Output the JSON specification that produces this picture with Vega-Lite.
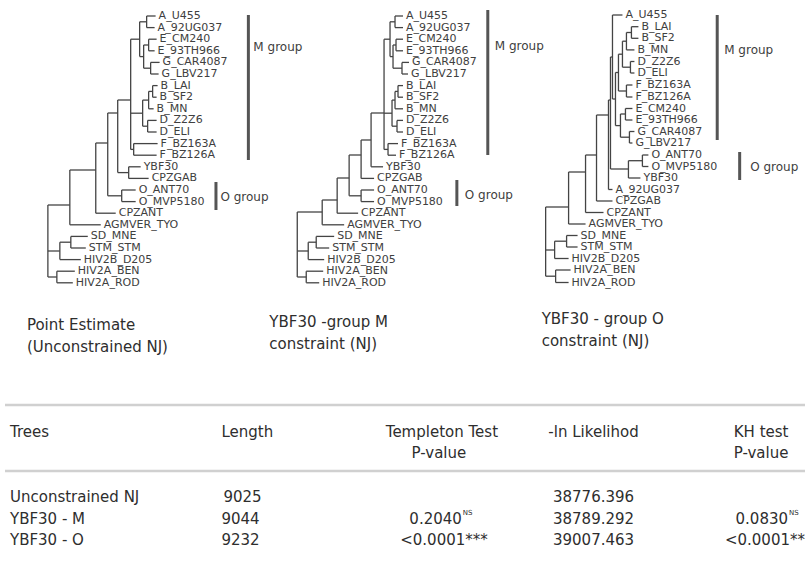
{
  "$schema": "https://vega.github.io/schema/vega-lite/v6.json",
  "width": 807,
  "height": 585,
  "autosize": {"type": "fit", "contains": "padding"},
  "padding": 0,
  "background": "white",
  "config": {"view": {"stroke": null}},
  "datasets": {
    "branches": [
      {"tree":1,"dist0":147,"dist1":156,"pos0":16,"pos1":16},{"tree":1,"dist0":147,"dist1":155,"pos0":27.6,"pos1":27.6},{"tree":1,"dist0":147,"dist1":147,"pos0":16,"pos1":27.6},
      {"tree":1,"dist0":149,"dist1":157,"pos0":39.2,"pos1":39.2},{"tree":1,"dist0":149,"dist1":155,"pos0":50.8,"pos1":50.8},{"tree":1,"dist0":149,"dist1":149,"pos0":39.2,"pos1":50.8},
      {"tree":1,"dist0":151,"dist1":160,"pos0":62.4,"pos1":62.4},{"tree":1,"dist0":151,"dist1":159,"pos0":74,"pos1":74},{"tree":1,"dist0":151,"dist1":151,"pos0":62.4,"pos1":74},
      {"tree":1,"dist0":144,"dist1":149,"pos0":45,"pos1":45},{"tree":1,"dist0":144,"dist1":151,"pos0":68.2,"pos1":68.2},{"tree":1,"dist0":144,"dist1":144,"pos0":45,"pos1":68.2},
      {"tree":1,"dist0":140,"dist1":147,"pos0":21.8,"pos1":21.8},{"tree":1,"dist0":140,"dist1":144,"pos0":56.6,"pos1":56.6},{"tree":1,"dist0":140,"dist1":140,"pos0":21.8,"pos1":56.6},
      {"tree":1,"dist0":153,"dist1":158,"pos0":85.6,"pos1":85.6},{"tree":1,"dist0":153,"dist1":157,"pos0":97.2,"pos1":97.2},{"tree":1,"dist0":153,"dist1":153,"pos0":85.6,"pos1":97.2},
      {"tree":1,"dist0":149,"dist1":153,"pos0":91.4,"pos1":91.4},{"tree":1,"dist0":149,"dist1":154,"pos0":108.8,"pos1":108.8},{"tree":1,"dist0":149,"dist1":149,"pos0":91.4,"pos1":108.8},
      {"tree":1,"dist0":148,"dist1":157,"pos0":120.4,"pos1":120.4},{"tree":1,"dist0":148,"dist1":157,"pos0":132,"pos1":132},{"tree":1,"dist0":148,"dist1":148,"pos0":120.4,"pos1":132},
      {"tree":1,"dist0":143,"dist1":149,"pos0":100.1,"pos1":100.1},{"tree":1,"dist0":143,"dist1":148,"pos0":126.2,"pos1":126.2},{"tree":1,"dist0":143,"dist1":143,"pos0":100.1,"pos1":126.2},
      {"tree":1,"dist0":134,"dist1":158,"pos0":143.6,"pos1":143.6},{"tree":1,"dist0":134,"dist1":157,"pos0":155.2,"pos1":155.2},{"tree":1,"dist0":134,"dist1":134,"pos0":143.6,"pos1":155.2},
      {"tree":1,"dist0":131,"dist1":140,"pos0":39.2,"pos1":39.2},{"tree":1,"dist0":131,"dist1":143,"pos0":113.2,"pos1":113.2},{"tree":1,"dist0":131,"dist1":134,"pos0":149.4,"pos1":149.4},{"tree":1,"dist0":131,"dist1":131,"pos0":39.2,"pos1":149.4},
      {"tree":1,"dist0":129,"dist1":141,"pos0":166.8,"pos1":166.8},{"tree":1,"dist0":129,"dist1":149,"pos0":178.4,"pos1":178.4},{"tree":1,"dist0":129,"dist1":129,"pos0":166.8,"pos1":178.4},
      {"tree":1,"dist0":118,"dist1":131,"pos0":100,"pos1":100},{"tree":1,"dist0":118,"dist1":129,"pos0":172.6,"pos1":172.6},{"tree":1,"dist0":118,"dist1":118,"pos0":100,"pos1":172.6},
      {"tree":1,"dist0":122,"dist1":136,"pos0":190,"pos1":190},{"tree":1,"dist0":122,"dist1":136,"pos0":201.6,"pos1":201.6},{"tree":1,"dist0":122,"dist1":122,"pos0":190,"pos1":201.6},
      {"tree":1,"dist0":108,"dist1":118,"pos0":113,"pos1":113},{"tree":1,"dist0":108,"dist1":122,"pos0":195.8,"pos1":195.8},{"tree":1,"dist0":108,"dist1":108,"pos0":113,"pos1":195.8},
      {"tree":1,"dist0":96,"dist1":108,"pos0":143,"pos1":143},{"tree":1,"dist0":96,"dist1":116,"pos0":213.2,"pos1":213.2},{"tree":1,"dist0":96,"dist1":96,"pos0":143,"pos1":213.2},
      {"tree":1,"dist0":70,"dist1":96,"pos0":170,"pos1":170},{"tree":1,"dist0":70,"dist1":101,"pos0":224.8,"pos1":224.8},{"tree":1,"dist0":70,"dist1":70,"pos0":170,"pos1":224.8},
      {"tree":1,"dist0":71,"dist1":88,"pos0":236.4,"pos1":236.4},{"tree":1,"dist0":71,"dist1":86,"pos0":248,"pos1":248},{"tree":1,"dist0":71,"dist1":71,"pos0":236.4,"pos1":248},
      {"tree":1,"dist0":60,"dist1":71,"pos0":242.2,"pos1":242.2},{"tree":1,"dist0":60,"dist1":81,"pos0":259.6,"pos1":259.6},{"tree":1,"dist0":60,"dist1":60,"pos0":242.2,"pos1":259.6},
      {"tree":1,"dist0":57,"dist1":75,"pos0":271.2,"pos1":271.2},{"tree":1,"dist0":57,"dist1":73,"pos0":282.8,"pos1":282.8},{"tree":1,"dist0":57,"dist1":57,"pos0":271.2,"pos1":282.8},
      {"tree":1,"dist0":48,"dist1":70,"pos0":205,"pos1":205},{"tree":1,"dist0":48,"dist1":60,"pos0":251,"pos1":251},{"tree":1,"dist0":48,"dist1":57,"pos0":277,"pos1":277},{"tree":1,"dist0":48,"dist1":48,"pos0":205,"pos1":277},

      {"tree":2,"dist0":396,"dist1":404,"pos0":16,"pos1":16},{"tree":2,"dist0":396,"dist1":404,"pos0":27.6,"pos1":27.6},{"tree":2,"dist0":396,"dist1":396,"pos0":16,"pos1":27.6},
      {"tree":2,"dist0":397,"dist1":404,"pos0":39.2,"pos1":39.2},{"tree":2,"dist0":397,"dist1":404,"pos0":50.8,"pos1":50.8},{"tree":2,"dist0":397,"dist1":397,"pos0":39.2,"pos1":50.8},
      {"tree":2,"dist0":403,"dist1":410,"pos0":62.4,"pos1":62.4},{"tree":2,"dist0":403,"dist1":409,"pos0":74,"pos1":74},{"tree":2,"dist0":403,"dist1":403,"pos0":62.4,"pos1":74},
      {"tree":2,"dist0":394,"dist1":397,"pos0":45,"pos1":45},{"tree":2,"dist0":394,"dist1":403,"pos0":68.2,"pos1":68.2},{"tree":2,"dist0":394,"dist1":394,"pos0":45,"pos1":68.2},
      {"tree":2,"dist0":391,"dist1":396,"pos0":21.8,"pos1":21.8},{"tree":2,"dist0":391,"dist1":394,"pos0":56.6,"pos1":56.6},{"tree":2,"dist0":391,"dist1":391,"pos0":21.8,"pos1":56.6},
      {"tree":2,"dist0":399,"dist1":404,"pos0":85.6,"pos1":85.6},{"tree":2,"dist0":399,"dist1":404,"pos0":97.2,"pos1":97.2},{"tree":2,"dist0":399,"dist1":399,"pos0":85.6,"pos1":97.2},
      {"tree":2,"dist0":396,"dist1":399,"pos0":91.4,"pos1":91.4},{"tree":2,"dist0":396,"dist1":404,"pos0":108.8,"pos1":108.8},{"tree":2,"dist0":396,"dist1":396,"pos0":91.4,"pos1":108.8},
      {"tree":2,"dist0":398,"dist1":404,"pos0":120.4,"pos1":120.4},{"tree":2,"dist0":398,"dist1":404,"pos0":132,"pos1":132},{"tree":2,"dist0":398,"dist1":398,"pos0":120.4,"pos1":132},
      {"tree":2,"dist0":393,"dist1":396,"pos0":100.1,"pos1":100.1},{"tree":2,"dist0":393,"dist1":398,"pos0":126.2,"pos1":126.2},{"tree":2,"dist0":393,"dist1":393,"pos0":100.1,"pos1":126.2},
      {"tree":2,"dist0":389,"dist1":399,"pos0":143.6,"pos1":143.6},{"tree":2,"dist0":389,"dist1":397,"pos0":155.2,"pos1":155.2},{"tree":2,"dist0":389,"dist1":389,"pos0":143.6,"pos1":155.2},
      {"tree":2,"dist0":385,"dist1":391,"pos0":39.2,"pos1":39.2},{"tree":2,"dist0":385,"dist1":393,"pos0":113.2,"pos1":113.2},{"tree":2,"dist0":385,"dist1":389,"pos0":149.4,"pos1":149.4},{"tree":2,"dist0":385,"dist1":385,"pos0":39.2,"pos1":149.4},
      {"tree":2,"dist0":372,"dist1":385,"pos0":113,"pos1":113},{"tree":2,"dist0":372,"dist1":384,"pos0":166.8,"pos1":166.8},{"tree":2,"dist0":372,"dist1":372,"pos0":113,"pos1":166.8},
      {"tree":2,"dist0":362,"dist1":372,"pos0":140,"pos1":140},{"tree":2,"dist0":362,"dist1":375,"pos0":178.4,"pos1":178.4},{"tree":2,"dist0":362,"dist1":362,"pos0":140,"pos1":178.4},
      {"tree":2,"dist0":362,"dist1":375,"pos0":190,"pos1":190},{"tree":2,"dist0":362,"dist1":375,"pos0":201.6,"pos1":201.6},{"tree":2,"dist0":362,"dist1":362,"pos0":190,"pos1":201.6},
      {"tree":2,"dist0":350,"dist1":362,"pos0":155,"pos1":155},{"tree":2,"dist0":350,"dist1":362,"pos0":195.8,"pos1":195.8},{"tree":2,"dist0":350,"dist1":350,"pos0":155,"pos1":195.8},
      {"tree":2,"dist0":338,"dist1":350,"pos0":178,"pos1":178},{"tree":2,"dist0":338,"dist1":359,"pos0":213.2,"pos1":213.2},{"tree":2,"dist0":338,"dist1":338,"pos0":178,"pos1":213.2},
      {"tree":2,"dist0":323,"dist1":338,"pos0":200,"pos1":200},{"tree":2,"dist0":323,"dist1":345,"pos0":224.8,"pos1":224.8},{"tree":2,"dist0":323,"dist1":323,"pos0":200,"pos1":224.8},
      {"tree":2,"dist0":317,"dist1":335,"pos0":236.4,"pos1":236.4},{"tree":2,"dist0":317,"dist1":330,"pos0":248,"pos1":248},{"tree":2,"dist0":317,"dist1":317,"pos0":236.4,"pos1":248},
      {"tree":2,"dist0":309,"dist1":317,"pos0":242.2,"pos1":242.2},{"tree":2,"dist0":309,"dist1":325,"pos0":259.6,"pos1":259.6},{"tree":2,"dist0":309,"dist1":309,"pos0":242.2,"pos1":259.6},
      {"tree":2,"dist0":307,"dist1":324,"pos0":271.2,"pos1":271.2},{"tree":2,"dist0":307,"dist1":320,"pos0":282.8,"pos1":282.8},{"tree":2,"dist0":307,"dist1":307,"pos0":271.2,"pos1":282.8},
      {"tree":2,"dist0":298,"dist1":323,"pos0":212,"pos1":212},{"tree":2,"dist0":298,"dist1":309,"pos0":251,"pos1":251},{"tree":2,"dist0":298,"dist1":307,"pos0":277,"pos1":277},{"tree":2,"dist0":298,"dist1":298,"pos0":212,"pos1":277},

      {"tree":3,"dist0":633,"dist1":640,"pos0":26.7,"pos1":26.7},{"tree":3,"dist0":633,"dist1":640,"pos0":38.3,"pos1":38.3},{"tree":3,"dist0":633,"dist1":633,"pos0":26.7,"pos1":38.3},
      {"tree":3,"dist0":628,"dist1":633,"pos0":32.5,"pos1":32.5},{"tree":3,"dist0":628,"dist1":636,"pos0":49.9,"pos1":49.9},{"tree":3,"dist0":628,"dist1":628,"pos0":32.5,"pos1":49.9},
      {"tree":3,"dist0":632,"dist1":636,"pos0":61.5,"pos1":61.5},{"tree":3,"dist0":632,"dist1":636,"pos0":73,"pos1":73},{"tree":3,"dist0":632,"dist1":632,"pos0":61.5,"pos1":73},
      {"tree":3,"dist0":624,"dist1":628,"pos0":41.2,"pos1":41.2},{"tree":3,"dist0":624,"dist1":632,"pos0":67.2,"pos1":67.2},{"tree":3,"dist0":624,"dist1":624,"pos0":41.2,"pos1":67.2},
      {"tree":3,"dist0":628,"dist1":634,"pos0":85,"pos1":85},{"tree":3,"dist0":628,"dist1":634,"pos0":97,"pos1":97},{"tree":3,"dist0":628,"dist1":628,"pos0":85,"pos1":97},
      {"tree":3,"dist0":620,"dist1":624,"pos0":54.2,"pos1":54.2},{"tree":3,"dist0":620,"dist1":628,"pos0":91,"pos1":91},{"tree":3,"dist0":620,"dist1":620,"pos0":54.2,"pos1":91},
      {"tree":3,"dist0":627,"dist1":634,"pos0":108.5,"pos1":108.5},{"tree":3,"dist0":627,"dist1":634,"pos0":120,"pos1":120},{"tree":3,"dist0":627,"dist1":627,"pos0":108.5,"pos1":120},
      {"tree":3,"dist0":631,"dist1":636,"pos0":131.5,"pos1":131.5},{"tree":3,"dist0":631,"dist1":634,"pos0":143,"pos1":143},{"tree":3,"dist0":631,"dist1":631,"pos0":131.5,"pos1":143},
      {"tree":3,"dist0":622,"dist1":627,"pos0":114,"pos1":114},{"tree":3,"dist0":622,"dist1":631,"pos0":137.2,"pos1":137.2},{"tree":3,"dist0":622,"dist1":622,"pos0":114,"pos1":137.2},
      {"tree":3,"dist0":617,"dist1":620,"pos0":72.5,"pos1":72.5},{"tree":3,"dist0":617,"dist1":622,"pos0":125.6,"pos1":125.6},{"tree":3,"dist0":617,"dist1":617,"pos0":72.5,"pos1":125.6},
      {"tree":3,"dist0":614,"dist1":624,"pos0":15,"pos1":15},{"tree":3,"dist0":614,"dist1":617,"pos0":99,"pos1":99},{"tree":3,"dist0":614,"dist1":614,"pos0":15,"pos1":99},
      {"tree":3,"dist0":644,"dist1":650,"pos0":155,"pos1":155},{"tree":3,"dist0":644,"dist1":650,"pos0":166.5,"pos1":166.5},{"tree":3,"dist0":644,"dist1":644,"pos0":155,"pos1":166.5},
      {"tree":3,"dist0":630,"dist1":644,"pos0":160.7,"pos1":160.7},{"tree":3,"dist0":630,"dist1":642,"pos0":178,"pos1":178},{"tree":3,"dist0":630,"dist1":630,"pos0":160.7,"pos1":178},
      {"tree":3,"dist0":612,"dist1":614,"pos0":57,"pos1":57},{"tree":3,"dist0":612,"dist1":630,"pos0":169,"pos1":169},{"tree":3,"dist0":612,"dist1":612,"pos0":57,"pos1":169},
      {"tree":3,"dist0":610,"dist1":612,"pos0":100,"pos1":100},{"tree":3,"dist0":610,"dist1":614,"pos0":189.5,"pos1":189.5},{"tree":3,"dist0":610,"dist1":610,"pos0":100,"pos1":189.5},
      {"tree":3,"dist0":598,"dist1":610,"pos0":115,"pos1":115},{"tree":3,"dist0":598,"dist1":614,"pos0":201,"pos1":201},{"tree":3,"dist0":598,"dist1":598,"pos0":115,"pos1":201},
      {"tree":3,"dist0":587,"dist1":598,"pos0":155,"pos1":155},{"tree":3,"dist0":587,"dist1":605,"pos0":212.5,"pos1":212.5},{"tree":3,"dist0":587,"dist1":587,"pos0":155,"pos1":212.5},
      {"tree":3,"dist0":570,"dist1":587,"pos0":172,"pos1":172},{"tree":3,"dist0":570,"dist1":587,"pos0":224,"pos1":224},{"tree":3,"dist0":570,"dist1":570,"pos0":172,"pos1":224},
      {"tree":3,"dist0":568,"dist1":579,"pos0":235.5,"pos1":235.5},{"tree":3,"dist0":568,"dist1":579,"pos0":247,"pos1":247},{"tree":3,"dist0":568,"dist1":568,"pos0":235.5,"pos1":247},
      {"tree":3,"dist0":556,"dist1":568,"pos0":241.2,"pos1":241.2},{"tree":3,"dist0":556,"dist1":570,"pos0":258.5,"pos1":258.5},{"tree":3,"dist0":556,"dist1":556,"pos0":241.2,"pos1":258.5},
      {"tree":3,"dist0":557,"dist1":572,"pos0":270,"pos1":270},{"tree":3,"dist0":557,"dist1":570,"pos0":282.5,"pos1":282.5},{"tree":3,"dist0":557,"dist1":557,"pos0":270,"pos1":282.5},
      {"tree":3,"dist0":547,"dist1":570,"pos0":207,"pos1":207},{"tree":3,"dist0":547,"dist1":556,"pos0":250,"pos1":250},{"tree":3,"dist0":547,"dist1":557,"pos0":276.2,"pos1":276.2},{"tree":3,"dist0":547,"dist1":547,"pos0":207,"pos1":276.2}
    ],
    "taxa": [
      {"tree":1,"taxon":"A_U455","tip":156,"pos":16},{"tree":1,"taxon":"A_92UG037","tip":155,"pos":27.6},{"tree":1,"taxon":"E_CM240","tip":157,"pos":39.2},{"tree":1,"taxon":"E_93TH966","tip":155,"pos":50.8},
      {"tree":1,"taxon":"G_CAR4087","tip":160,"pos":62.4},{"tree":1,"taxon":"G_LBV217","tip":159,"pos":74},{"tree":1,"taxon":"B_LAI","tip":158,"pos":85.6},{"tree":1,"taxon":"B_SF2","tip":157,"pos":97.2},
      {"tree":1,"taxon":"B_MN","tip":154,"pos":108.8},{"tree":1,"taxon":"D_Z2Z6","tip":157,"pos":120.4},{"tree":1,"taxon":"D_ELI","tip":157,"pos":132},{"tree":1,"taxon":"F_BZ163A","tip":158,"pos":143.6},
      {"tree":1,"taxon":"F_BZ126A","tip":157,"pos":155.2},{"tree":1,"taxon":"YBF30","tip":141,"pos":166.8},{"tree":1,"taxon":"CPZGAB","tip":149,"pos":178.4},{"tree":1,"taxon":"O_ANT70","tip":136,"pos":190},
      {"tree":1,"taxon":"O_MVP5180","tip":136,"pos":201.6},{"tree":1,"taxon":"CPZANT","tip":116,"pos":213.2},{"tree":1,"taxon":"AGMVER_TYO","tip":101,"pos":224.8},{"tree":1,"taxon":"SD_MNE","tip":88,"pos":236.4},
      {"tree":1,"taxon":"STM_STM","tip":86,"pos":248},{"tree":1,"taxon":"HIV2B_D205","tip":81,"pos":259.6},{"tree":1,"taxon":"HIV2A_BEN","tip":75,"pos":271.2},{"tree":1,"taxon":"HIV2A_ROD","tip":73,"pos":282.8},

      {"tree":2,"taxon":"A_U455","tip":404,"pos":16},{"tree":2,"taxon":"A_92UG037","tip":404,"pos":27.6},{"tree":2,"taxon":"E_CM240","tip":404,"pos":39.2},{"tree":2,"taxon":"E_93TH966","tip":404,"pos":50.8},
      {"tree":2,"taxon":"G_CAR4087","tip":410,"pos":62.4},{"tree":2,"taxon":"G_LBV217","tip":409,"pos":74},{"tree":2,"taxon":"B_LAI","tip":404,"pos":85.6},{"tree":2,"taxon":"B_SF2","tip":404,"pos":97.2},
      {"tree":2,"taxon":"B_MN","tip":404,"pos":108.8},{"tree":2,"taxon":"D_Z2Z6","tip":404,"pos":120.4},{"tree":2,"taxon":"D_ELI","tip":404,"pos":132},{"tree":2,"taxon":"F_BZ163A","tip":399,"pos":143.6},
      {"tree":2,"taxon":"F_BZ126A","tip":397,"pos":155.2},{"tree":2,"taxon":"YBF30","tip":384,"pos":166.8},{"tree":2,"taxon":"CPZGAB","tip":375,"pos":178.4},{"tree":2,"taxon":"O_ANT70","tip":375,"pos":190},
      {"tree":2,"taxon":"O_MVP5180","tip":375,"pos":201.6},{"tree":2,"taxon":"CPZANT","tip":359,"pos":213.2},{"tree":2,"taxon":"AGMVER_TYO","tip":345,"pos":224.8},{"tree":2,"taxon":"SD_MNE","tip":335,"pos":236.4},
      {"tree":2,"taxon":"STM_STM","tip":330,"pos":248},{"tree":2,"taxon":"HIV2B_D205","tip":325,"pos":259.6},{"tree":2,"taxon":"HIV2A_BEN","tip":324,"pos":271.2},{"tree":2,"taxon":"HIV2A_ROD","tip":320,"pos":282.8},

      {"tree":3,"taxon":"A_U455","tip":624,"pos":15},{"tree":3,"taxon":"B_LAI","tip":640,"pos":26.7},{"tree":3,"taxon":"B_SF2","tip":640,"pos":38.3},{"tree":3,"taxon":"B_MN","tip":636,"pos":49.9},
      {"tree":3,"taxon":"D_Z2Z6","tip":636,"pos":61.5},{"tree":3,"taxon":"D_ELI","tip":636,"pos":73},{"tree":3,"taxon":"F_BZ163A","tip":634,"pos":85},{"tree":3,"taxon":"F_BZ126A","tip":634,"pos":97},
      {"tree":3,"taxon":"E_CM240","tip":634,"pos":108.5},{"tree":3,"taxon":"E_93TH966","tip":634,"pos":120},{"tree":3,"taxon":"G_CAR4087","tip":636,"pos":131.5},{"tree":3,"taxon":"G_LBV217","tip":634,"pos":143},
      {"tree":3,"taxon":"O_ANT70","tip":650,"pos":155},{"tree":3,"taxon":"O_MVP5180","tip":650,"pos":166.5},{"tree":3,"taxon":"YBF30","tip":642,"pos":178},{"tree":3,"taxon":"A_92UG037","tip":614,"pos":189.5},
      {"tree":3,"taxon":"CPZGAB","tip":614,"pos":201},{"tree":3,"taxon":"CPZANT","tip":605,"pos":212.5},{"tree":3,"taxon":"AGMVER_TYO","tip":587,"pos":224},{"tree":3,"taxon":"SD_MNE","tip":579,"pos":235.5},
      {"tree":3,"taxon":"STM_STM","tip":579,"pos":247},{"tree":3,"taxon":"HIV2B_D205","tip":570,"pos":258.5},{"tree":3,"taxon":"HIV2A_BEN","tip":572,"pos":270},{"tree":3,"taxon":"HIV2A_ROD","tip":570,"pos":282.5}
    ],
    "groups": [
      {"tree":1,"group":"M group","bar":249,"pos0":15,"pos1":160,"label_at":254,"label_pos":47},
      {"tree":1,"group":"O group","bar":216.5,"pos0":182,"pos1":210,"label_at":221,"label_pos":197},
      {"tree":2,"group":"M group","bar":489,"pos0":10,"pos1":155,"label_at":496,"label_pos":46},
      {"tree":2,"group":"O group","bar":458,"pos0":180,"pos1":206,"label_at":466,"label_pos":195},
      {"tree":3,"group":"M group","bar":719,"pos0":15,"pos1":140,"label_at":726,"label_pos":50},
      {"tree":3,"group":"O group","bar":741.5,"pos0":152,"pos1":180,"label_at":752,"label_pos":167}
    ],
    "captions": [
      {"tree":1,"text":"Point Estimate","at":27,"line":325},
      {"tree":1,"text":"(Unconstrained NJ)","at":27,"line":347},
      {"tree":2,"text":"YBF30 -group M","at":270,"line":322},
      {"tree":2,"text":"constraint (NJ)","at":270,"line":344},
      {"tree":3,"text":"YBF30 - group O","at":543,"line":319},
      {"tree":3,"text":"constraint (NJ)","at":543,"line":341}
    ],
    "rules": [
      {"at":5,"at_end":807,"line":405},
      {"at":5,"at_end":807,"line":471}
    ],
    "table": [
      {"col":"Trees","row":"header","part":"value","text":"Trees","at":10,"line":432},
      {"col":"Length","row":"header","part":"value","text":"Length","at":222,"line":432},
      {"col":"Templeton","row":"header","part":"value","text":"Templeton Test","at":443,"line":432},
      {"col":"Templeton","row":"header","part":"value","text":"P-value","at":440,"line":453},
      {"col":"lnL","row":"header","part":"value","text":"-ln Likelihod","at":595,"line":432},
      {"col":"KH","row":"header","part":"value","text":"KH test","at":763,"line":432},
      {"col":"KH","row":"header","part":"value","text":"P-value","at":763,"line":453},
      {"col":"Trees","row":"Unconstrained NJ","part":"value","text":"Unconstrained NJ","at":10,"line":497},
      {"col":"Length","row":"Unconstrained NJ","part":"value","text":"9025","at":224,"line":497},
      {"col":"lnL","row":"Unconstrained NJ","part":"value","text":"38776.396","at":595,"line":497},
      {"col":"Trees","row":"YBF30 - M","part":"value","text":"YBF30 - M","at":10,"line":518.5},
      {"col":"Length","row":"YBF30 - M","part":"value","text":"9044","at":222,"line":518.5},
      {"col":"Templeton","row":"YBF30 - M","part":"value","text":"0.2040","at":463,"line":518.5},
      {"col":"Templeton","row":"YBF30 - M","part":"note","text":"NS","at":464,"line":513},
      {"col":"lnL","row":"YBF30 - M","part":"value","text":"38789.292","at":595,"line":518.5},
      {"col":"KH","row":"YBF30 - M","part":"value","text":"0.0830","at":790,"line":518.5},
      {"col":"KH","row":"YBF30 - M","part":"note","text":"NS","at":791,"line":513},
      {"col":"Trees","row":"YBF30 - O","part":"value","text":"YBF30 - O","at":10,"line":540},
      {"col":"Length","row":"YBF30 - O","part":"value","text":"9232","at":222,"line":540},
      {"col":"Templeton","row":"YBF30 - O","part":"value","text":"<0.0001***","at":489,"line":540},
      {"col":"lnL","row":"YBF30 - O","part":"value","text":"39007.463","at":595,"line":540},
      {"col":"KH","row":"YBF30 - O","part":"value","text":"<0.0001**","at":807,"line":540}
    ]
  },
  "layer": [
    {
      "data": {"name": "branches"},
      "mark": {"type": "rule", "color": "#444444", "strokeWidth": 1.3},
      "encoding": {
        "x": {"field": "dist0", "type": "quantitative", "scale": {"domain": [0, 807], "nice": false, "zero": false}, "axis": null},
        "x2": {"field": "dist1"},
        "y": {"field": "pos0", "type": "quantitative", "scale": {"domain": [0, 585], "reverse": true, "nice": false, "zero": false}, "axis": null},
        "y2": {"field": "pos1"}
      }
    },
    {
      "data": {"name": "taxa"},
      "mark": {"type": "text", "align": "left", "baseline": "middle", "dx": 3, "font": "DejaVu Sans", "fontSize": 11, "color": "#404040"},
      "encoding": {
        "x": {"field": "tip", "type": "quantitative", "scale": {"domain": [0, 807], "nice": false, "zero": false}, "axis": null},
        "y": {"field": "pos", "type": "quantitative", "scale": {"domain": [0, 585], "reverse": true, "nice": false, "zero": false}, "axis": null},
        "text": {"field": "taxon"}
      }
    },
    {
      "data": {"name": "groups"},
      "mark": {"type": "rule", "color": "#555555", "strokeWidth": 3},
      "encoding": {
        "x": {"field": "bar", "type": "quantitative", "axis": null},
        "y": {"field": "pos0", "type": "quantitative", "axis": null},
        "y2": {"field": "pos1"}
      }
    },
    {
      "data": {"name": "groups"},
      "mark": {"type": "text", "align": "left", "baseline": "middle", "font": "DejaVu Sans", "fontSize": 12, "color": "#404040"},
      "encoding": {
        "x": {"field": "label_at", "type": "quantitative", "axis": null},
        "y": {"field": "label_pos", "type": "quantitative", "axis": null},
        "text": {"field": "group"}
      }
    },
    {
      "data": {"name": "captions"},
      "mark": {"type": "text", "align": "left", "baseline": "middle", "font": "DejaVu Sans", "fontSize": 15, "color": "#2e2e2e"},
      "encoding": {
        "x": {"field": "at", "type": "quantitative", "axis": null},
        "y": {"field": "line", "type": "quantitative", "axis": null},
        "text": {"field": "text"}
      }
    },
    {
      "data": {"name": "rules"},
      "mark": {"type": "rule", "color": "#d0d0d0", "strokeWidth": 2.5},
      "encoding": {
        "x": {"field": "at", "type": "quantitative", "axis": null},
        "x2": {"field": "at_end"},
        "y": {"field": "line", "type": "quantitative", "axis": null}
      }
    },
    {
      "data": {"name": "table"},
      "transform": [{"filter": "datum.col == 'Trees' || datum.col == 'Length'"}],
      "mark": {"type": "text", "align": "left", "baseline": "middle", "font": "DejaVu Sans", "fontSize": 15, "color": "#2e2e2e"},
      "encoding": {
        "x": {"field": "at", "type": "quantitative", "axis": null},
        "y": {"field": "line", "type": "quantitative", "axis": null},
        "text": {"field": "text"}
      }
    },
    {
      "data": {"name": "table"},
      "transform": [{"filter": "datum.col == 'lnL' || (datum.row == 'header' && (datum.col == 'Templeton' || datum.col == 'KH'))"}],
      "mark": {"type": "text", "align": "center", "baseline": "middle", "font": "DejaVu Sans", "fontSize": 15, "color": "#2e2e2e"},
      "encoding": {
        "x": {"field": "at", "type": "quantitative", "axis": null},
        "y": {"field": "line", "type": "quantitative", "axis": null},
        "text": {"field": "text"}
      }
    },
    {
      "data": {"name": "table"},
      "transform": [{"filter": "(datum.col == 'Templeton' || datum.col == 'KH') && datum.row != 'header' && datum.part == 'value'"}],
      "mark": {"type": "text", "align": "right", "baseline": "middle", "font": "DejaVu Sans", "fontSize": 15, "color": "#2e2e2e"},
      "encoding": {
        "x": {"field": "at", "type": "quantitative", "axis": null},
        "y": {"field": "line", "type": "quantitative", "axis": null},
        "text": {"field": "text"}
      }
    },
    {
      "data": {"name": "table"},
      "transform": [{"filter": "datum.part == 'note'"}],
      "mark": {"type": "text", "align": "left", "baseline": "middle", "font": "DejaVu Sans", "fontSize": 7, "color": "#2e2e2e"},
      "encoding": {
        "x": {"field": "at", "type": "quantitative", "axis": null},
        "y": {"field": "line", "type": "quantitative", "axis": null},
        "text": {"field": "text"}
      }
    }
  ]
}
